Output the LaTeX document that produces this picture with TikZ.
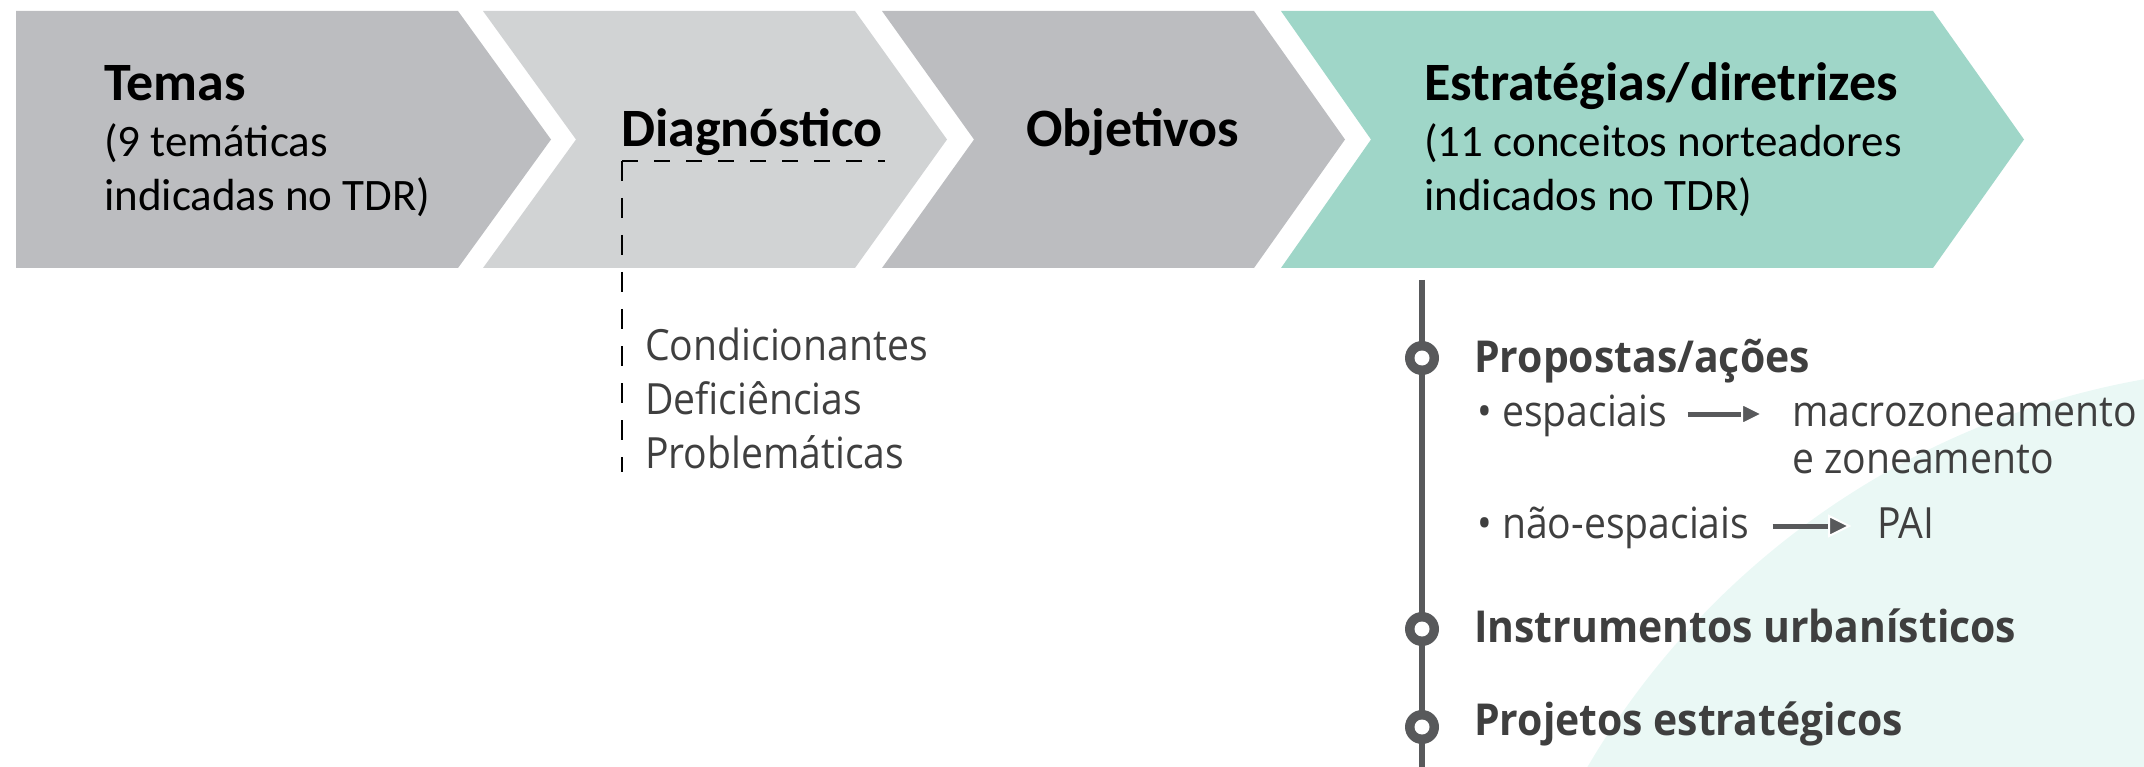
\documentclass[tikz,border=0pt]{standalone}
\usepackage{fontspec}
\setmainfont{Carlito}
\newfontfamily\osans[FakeStretch=0.91]{Open Sans}
\newfontfamily\osansb[FakeStretch=0.93]{Open Sans Bold}
\definecolor{chevA}{HTML}{BCBDC0}
\definecolor{chevB}{HTML}{D1D3D4}
\definecolor{chevT}{HTML}{9FD6C8}
\definecolor{mint}{HTML}{EAF8F5}
\definecolor{txtgray}{HTML}{3F3F3F}
\definecolor{linegray}{HTML}{58595B}
\begin{document}
\begin{tikzpicture}[x=1pt,y=-1pt,
  title/.style={anchor=base west, inner sep=0pt, font=\fontsize{54}{60}\selectfont\bfseries},
  sub/.style={anchor=base west, inner sep=0pt, font=\fontsize{45}{54}\selectfont},
  item/.style={anchor=base west, inner sep=0pt, text=txtgray, font=\osans\fontsize{43}{50}\selectfont},
  head/.style={anchor=base west, inner sep=0pt, text=txtgray, font=\osansb\fontsize{44}{52}\selectfont},
  ring/.style={circle, fill=linegray, minimum size=34pt, inner sep=0pt,
    path picture={\fill[white] (path picture bounding box.center) circle (7.5pt);}},
  arrline/.style={draw=linegray, line width=5pt},
  arrhead/.style={fill=linegray, draw=white, line width=2pt, line join=miter},
  guide/.style={draw=black, line width=2pt},
]
\useasboundingbox (0,0) rectangle (2144,767);
\begin{scope}
  \clip (0,0) rectangle (2144,767);
  \fill[mint] (2285,1175) circle (808);
\end{scope}
% chevrons
\fill[chevA] (16,11) -- (458,11) -- (551,139.5) -- (458,268) -- (16,268) -- cycle;
\fill[chevB] (483,11) -- (855,11) -- (947,139.5) -- (855,268) -- (483,268) -- (576,139.5) -- cycle;
\fill[chevA] (882,11) -- (1254,11) -- (1345,139.5) -- (1254,268) -- (882,268) -- (974,139.5) -- cycle;
\fill[chevT] (1281,11) -- (1933,11) -- (2024,139.5) -- (1933,268) -- (1281,268) -- (1371,139.5) -- cycle;
% top texts
\node[title] (temas) at (104,101) {Temas};
\node[sub] (temas2) at (104,157) {(9 temáticas};
\node[sub] (temas3) at (104,211) {indicadas no TDR)};
\node[title] (diag) at (621,147) {Diagnóstico};
\node[title] (obj) at (1026,147) {Objetivos};
\node[title] (estr) at (1424,101) {Estratégias/diretrizes};
\node[sub] (estr2) at (1424,157) {(11 conceitos norteadores};
\node[sub] (estr3) at (1424,211) {indicados no TDR)};
% diagnostico list
\node[item] (cond) at (645,360) {Condicionantes};
\node[item] (defi) at (645,414) {Deficiências};
\node[item] (prob) at (645,468) {Problemáticas};
\coordinate (gc) at (622,161);
\coordinate (ge) at (885,161);
\coordinate (gb) at (622,472);
\draw[guide, dash pattern=on 16pt off 16pt] (gc) -- (ge);
\draw[guide, dash pattern=on 20pt off 17pt] (gc) -- (gb);
% timeline
\coordinate (tltop) at (1422,280);
\coordinate (tlbot) at (1422,767);
\draw[linegray, line width=6pt] (tltop) -- (tlbot);
\node[ring] (r1) at (1422,358) {};
\node[ring] (r2) at (1422,629) {};
\node[ring] (r3) at (1422,727) {};
\node[head] (prop) at (1474,372) {Propostas/ações};
\node[item] (esp) at (1477,426) {• espaciais};
\node[item] (macro) at (1792,426) {macrozoneamento};
\node[item] (zon) at (1792,473) {e zoneamento};
\node[item] (nesp) at (1477,538) {• não-espaciais};
\node[item] (pai) at (1877,538) {PAI};
\node[head] (inst) at (1474,642) {Instrumentos urbanísticos};
\node[head] (proj) at (1474,735) {Projetos estratégicos};
% arrows
\coordinate (a1s) at ([xshift=20pt,yshift=12pt]esp.base east);
\coordinate (a1t) at ([xshift=-30pt,yshift=12pt]macro.base west);
\draw[arrline] (a1s) -- ([xshift=-17pt]a1t);
\filldraw[arrhead] (a1t) -- ++(-20,-10) -- ++(0,20) -- cycle;
\coordinate (a2s) at ([xshift=23pt,yshift=12pt]nesp.base east);
\coordinate (a2t) at ([xshift=-28pt,yshift=12pt]pai.base west);
\draw[arrline] (a2s) -- ([xshift=-17pt]a2t);
\filldraw[arrhead] (a2t) -- ++(-20,-10) -- ++(0,20) -- cycle;
\end{tikzpicture}
\end{document}
